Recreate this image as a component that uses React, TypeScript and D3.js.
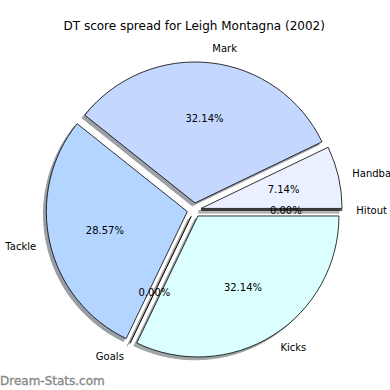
import React from "react";
import * as d3 from "d3";

const categories = ["Handball", "Mark", "Tackle", "Goals", "Kicks", "Hitout"];
const values = [2, 9, 8, 0, 9, 0];
const colors = ["#eaf0ff", "#c4d8ff", "#b3d5ff", "#ffffff", "#dbffff", "#ffffff"];
const title = "DT score spread for Leigh Montagna (2002)";
const watermark = "Dream-Stats.com";

const W = 390, H = 390;
const cx = 194.2, cy = 210, R = 141;
const explode = 0.05;

export default function App() {
  const total = d3.sum(values);
  const toRad = (deg: number) => (deg * Math.PI) / 180;
  const angle = d3.scaleLinear().domain([0, total]).range([0, 360]);
  let cum = 0;
  const slices = values.map((v, i) => {
    const t1 = angle(cum);
    cum += v;
    const t2 = angle(cum);
    const tm = (t1 + t2) / 2;
    const d = explode * R;
    const ox = cx + d * Math.cos(toRad(tm));
    const oy = cy - d * Math.sin(toRad(tm));
    const arc = d3.arc<any>()
      .innerRadius(0)
      .outerRadius(R)
      .startAngle(Math.PI / 2 - toRad(t2))
      .endAngle(Math.PI / 2 - toRad(t1));
    const path = arc({}) as string;
    const lx = ox + 1.1 * R * Math.cos(toRad(tm));
    const ly = oy - 1.1 * R * Math.sin(toRad(tm));
    const px = ox + 0.6 * R * Math.cos(toRad(tm));
    const py = oy - 0.6 * R * Math.sin(toRad(tm));
    const c = d3.rgb(colors[i]);
    const sh = d3.rgb(255 * 0.5 + c.r * 0.15, 255 * 0.5 + c.g * 0.15, 255 * 0.5 + c.b * 0.15);
    return {
      i, v, tm, ox, oy, path, lx, ly, px, py,
      anchor: Math.cos(toRad(tm)) > 0 ? "start" : "end",
      pct: ((v / total) * 100).toFixed(2) + "%",
      shadow: sh.formatHex(),
    };
  });
  const so = 0.02 * R;
  const font = "DejaVu Sans, sans-serif";
  return (
    <svg width={W} height={H} style={{ position: "absolute", left: 0, top: 0 }} fontFamily={font}>
      <rect width={W} height={H} fill="#fff" />
      {slices.map((s) => (
        <path key={"s" + s.i} d={s.path} transform={`translate(${s.ox - so},${s.oy + so})`}
          fill={s.shadow} stroke={s.shadow} strokeWidth={1} />
      ))}
      {slices.map((s) => (
        <path key={"w" + s.i} d={s.path} transform={`translate(${s.ox},${s.oy})`}
          fill={colors[s.i]} stroke="#000" strokeWidth={0.8} strokeLinejoin="round" />
      ))}
      {slices.map((s) => (
        <text key={"l" + s.i} x={s.lx} y={s.ly} textAnchor={s.anchor} dominantBaseline="central" fontSize={10}>
          {categories[s.i]}
        </text>
      ))}
      {slices.map((s) => (
        <text key={"p" + s.i} x={s.px} y={s.py} textAnchor="middle" dominantBaseline="central" fontSize={10}>
          {s.pct}
        </text>
      ))}
      <text x={cx} y={26} textAnchor="middle" dominantBaseline="central" fontSize={12}>{title}</text>
      <text x={0} y={384.5} fontSize={12} fill="#888" stroke="#888" strokeWidth={0.35}>{watermark}</text>
    </svg>
  );
}
